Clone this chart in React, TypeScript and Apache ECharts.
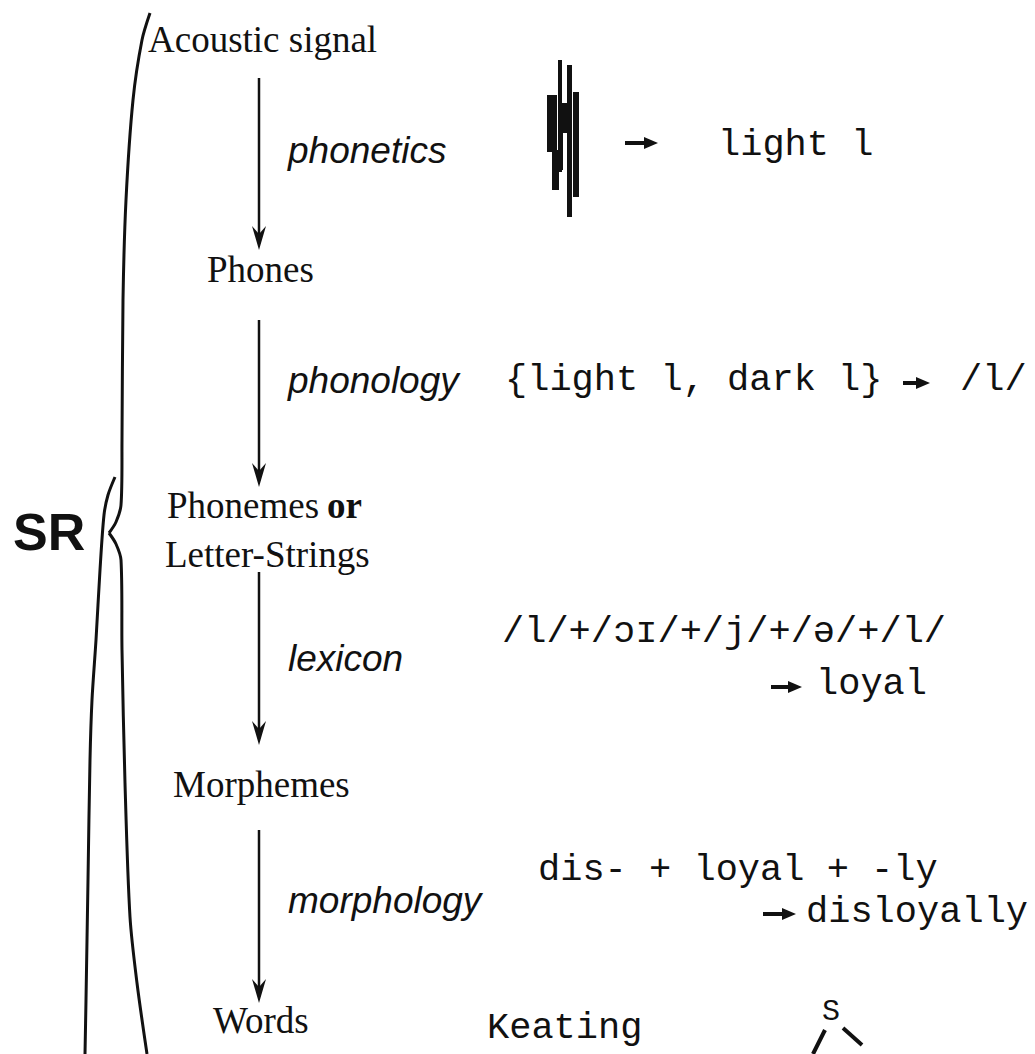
import React, { useEffect, useRef } from "react";
import * as echarts from "echarts";

// ---- content ----
const stageLabels = ["Acoustic signal", "Phones", "Phonemes", "Letter-Strings", "Morphemes", "Words"];
const stageExtra = "or";
const processLabels = ["phonetics", "phonology", "lexicon", "morphology"];
const exampleTexts = [
  "light l",
  "{light l, dark l}",
  "/l/",
  "/l/+/ɔɪ/+/j/+/ə/+/l/",
  "loyal",
  "dis- + loyal + -ly",
  "disloyally",
  "Keating",
];
const treeLabel = "S";
const bracketLabel = "SR";

// ---- layout ----
const SERIF = "'Liberation Serif', 'Times New Roman', serif";
const SANS = "'Liberation Sans', Arial, sans-serif";
const MONO = "'Liberation Mono', 'Courier New', monospace";

const stagePos = [
  [148, 52],
  [207, 282],
  [167, 518],
  [165, 567],
  [173, 797],
  [213, 1033],
];
const processPos = [
  [288, 163],
  [288, 393],
  [288, 671],
  [288, 913],
];
const examplePos = [
  [718, 158],
  [505, 393],
  [960, 393],
  [502, 645],
  [816, 697],
  [538, 883],
  [806, 925],
  [487, 1041],
];
const arrowSpans = [
  [78, 250],
  [320, 487],
  [572, 745],
  [830, 1003],
];
const smallArrows = [
  [625, 658, 143],
  [903, 930, 383],
  [771, 802, 687],
  [763, 796, 914],
];
const waveRects = [
  [547, 95, 10, 57],
  [552, 150, 7, 40],
  [558, 60, 4, 112],
  [562, 103, 8, 30],
  [561, 133, 2, 37],
  [567, 65, 5, 152],
  [573, 92, 6, 105],
];

function txt(text: string, x: number, baseline: number, size: number, family: string, extra: any = {}) {
  return {
    type: "text",
    x,
    y: baseline - 0.35 * size,
    silent: true,
    style: {
      text,
      fill: "#111",
      fontSize: size,
      fontFamily: family,
      fontStyle: extra.italic ? "italic" : "normal",
      fontWeight: extra.bold ? "bold" : "normal",
      textAlign: "left",
      align: "left",
      textVerticalAlign: "middle",
      verticalAlign: "middle",
    },
  };
}

function buildElements() {
  const els: any[] = [];
  stageLabels.forEach((s, i) => {
    els.push(txt(s, stagePos[i][0], stagePos[i][1], 37, SERIF));
  });
  els.push(txt(stageExtra, 327, 518, 37, SERIF, { bold: true }));
  processLabels.forEach((s, i) => {
    els.push(txt(s, processPos[i][0], processPos[i][1], 37, SANS, { italic: true }));
  });
  exampleTexts.forEach((s, i) => {
    els.push(txt(s, examplePos[i][0], examplePos[i][1], 37, MONO));
  });
  arrowSpans.forEach(([y1, y2]) => {
    els.push({
      type: "line",
      silent: true,
      shape: { x1: 259, y1, x2: 259, y2: y2 - 14 },
      style: { stroke: "#111", lineWidth: 2.5 },
    });
    els.push({
      type: "polygon",
      silent: true,
      shape: { points: [[252, y2 - 24], [259, y2 - 16], [266, y2 - 24], [259, y2]] },
      style: { fill: "#111" },
    });
  });
  smallArrows.forEach(([x1, x2, y]) => {
    els.push({
      type: "line",
      silent: true,
      shape: { x1, y1: y, x2: x2 - 8, y2: y },
      style: { stroke: "#111", lineWidth: 4 },
    });
    els.push({
      type: "polygon",
      silent: true,
      shape: { points: [[x2 - 14, y - 6], [x2, y], [x2 - 14, y + 6]] },
      style: { fill: "#111" },
    });
  });
  waveRects.forEach(([x, y, w, h]) => {
    els.push({ type: "rect", silent: true, shape: { x, y, width: w, height: h }, style: { fill: "#111" } });
  });
  const outerA = [[150, 13], [142, 40], [133, 100], [126, 200], [123, 300], [122, 440], [121, 505], [116, 522], [109, 533]];
  const outerB = [[109, 533], [116, 544], [121, 560], [122, 650], [125, 783], [130, 917], [137, 983], [147, 1054]];
  const inner = [[115, 477], [108, 495], [104, 515], [100, 570], [96, 640], [92, 700], [90, 760], [88, 880], [86, 1000], [85, 1054]];
  [outerA, outerB, inner].forEach((pts) => {
    els.push({
      type: "polyline",
      silent: true,
      shape: { points: pts, smooth: 0.3 },
      style: { stroke: "#111", lineWidth: 3, fill: null },
    });
  });
  els.push(txt(bracketLabel, 13, 550, 52, SANS, { bold: true }));
  els.push(txt(treeLabel, 822, 1022, 30, MONO));
  els.push({ type: "line", silent: true, shape: { x1: 825, y1: 1030, x2: 813, y2: 1054 }, style: { stroke: "#111", lineWidth: 4 } });
  els.push({ type: "line", silent: true, shape: { x1: 843, y1: 1028, x2: 862, y2: 1045 }, style: { stroke: "#111", lineWidth: 4 } });
  return els;
}

export default function App() {
  const ref = useRef<HTMLDivElement>(null);
  useEffect(() => {
    if (!ref.current) return;
    const chart = echarts.init(ref.current, null, { renderer: "svg" });
    chart.setOption({
      animation: false,
      backgroundColor: "#ffffff",
      graphic: { elements: buildElements() },
    });
    return () => chart.dispose();
  }, []);
  return (
    <div
      ref={ref}
      style={{ position: "absolute", left: 0, top: 0, width: 1035, height: 1054, background: "#fff" }}
    />
  );
}
